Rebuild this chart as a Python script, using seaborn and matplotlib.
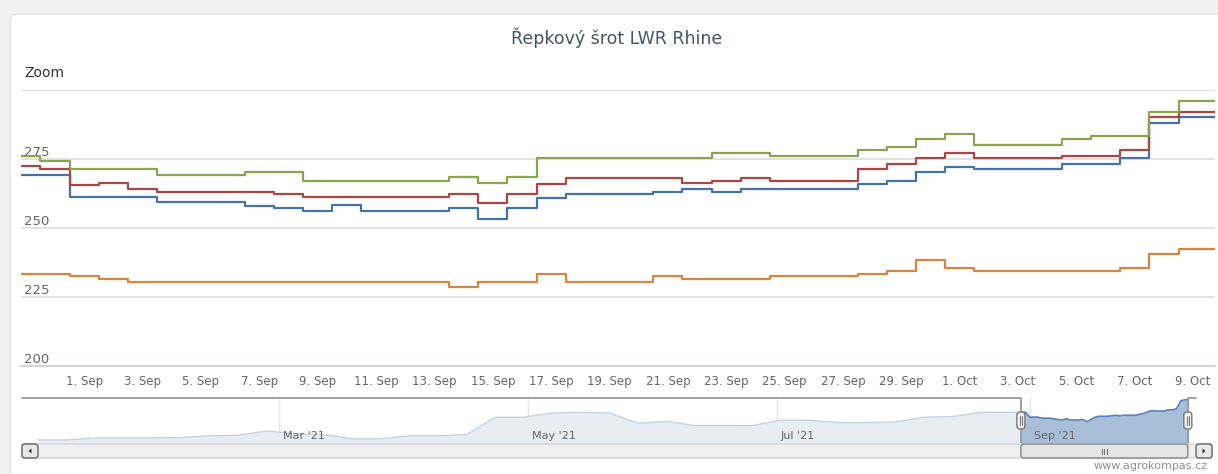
import numpy as np
import pandas as pd
import seaborn as sns
import matplotlib.pyplot as plt
import matplotlib.dates as mdates
from matplotlib.patches import FancyBboxPatch, Rectangle, Polygon
from matplotlib.lines import Line2D
from matplotlib.transforms import IdentityTransform, blended_transform_factory

# daily prices 29 Aug - 10 Oct 2021 (first and last day only partly in view)
dates = pd.date_range('2021-08-29', '2021-10-10', freq='D')

blue = [269.2, 269.2, 269.2, 261.1, 261.1, 261.1, 259.3, 259.3, 259.3, 258.1,
        257.1, 256.2, 258.4, 256.2, 256.2, 256.2, 257.2, 253.4, 257.2, 261.0,
        262.4, 262.4, 262.4, 263.2, 264.2, 263.2, 264.2, 264.2, 264.2, 264.2,
        266.1, 267.2, 270.2, 272.1, 271.2, 271.2, 271.2, 273.2, 273.2, 275.2,
        288.0, 290.1, 290.1]
red = [272.4, 272.4, 271.2, 265.4, 266.4, 264.2, 263.2, 263.2, 263.2, 263.2,
       262.4, 261.1, 261.1, 261.1, 261.1, 261.1, 262.4, 259.2, 262.4, 266.1,
       268.2, 268.2, 268.2, 268.2, 266.2, 267.2, 268.2, 267.2, 267.2, 267.2,
       271.2, 273.3, 275.2, 277.2, 275.2, 275.2, 275.2, 276.2, 276.2, 278.2,
       290.2, 292.2, 292.2]
green = [276.2, 276.2, 274.3, 271.2, 271.2, 271.2, 269.2, 269.2, 269.2, 270.3,
         270.3, 267.2, 267.2, 267.2, 267.2, 267.2, 268.4, 266.2, 268.4, 275.3,
         275.3, 275.3, 275.3, 275.3, 275.3, 277.2, 277.2, 276.2, 276.2, 276.2,
         278.2, 279.2, 282.2, 284.1, 280.2, 280.2, 280.2, 282.2, 283.2, 283.2,
         292.2, 296.0, 296.0]
orange = [233.5, 233.5, 233.5, 232.5, 231.5, 230.5, 230.5, 230.5, 230.5, 230.5,
          230.5, 230.5, 230.5, 230.5, 230.5, 230.5, 228.7, 230.5, 230.5, 233.5,
          230.5, 230.5, 230.5, 232.5, 231.5, 231.5, 231.5, 232.5, 232.5, 232.5,
          233.5, 234.5, 238.5, 235.5, 234.5, 234.5, 234.5, 234.5, 234.5, 235.5,
          240.4, 242.5, 242.5]
series_names = ['s1', 's2', 's3', 's4']
colors = ['#4572A7', '#AA4643', '#89A54E', '#DB843D']

# navigator: weekly history of the first series before the zoomed window
nav_dates = pd.date_range('2021-01-01', periods=34, freq='7D')
nav_values = [223, 223, 226.5, 226.5, 226.5, 227, 230, 231, 238, 233,
              232, 225, 225, 230, 230, 232, 261, 261, 268, 269,
              268, 251, 254, 247, 247, 247, 256, 256, 252, 252,
              253, 261, 262, 269]

tick_dates = pd.date_range('2021-08-30', '2021-10-09', freq='2D')
tick_labels = ['', '1. Sep', '3. Sep', '5. Sep', '7. Sep', '9. Sep', '11. Sep',
               '13. Sep', '15. Sep', '17. Sep', '19. Sep', '21. Sep', '23. Sep',
               '25. Sep', '27. Sep', '29. Sep', '1. Oct', '3. Oct', '5. Oct',
               '7. Oct', '9. Oct']
ytick_values = [200, 225, 250, 275, 300]
ytick_labels = ['200', '225', '250', '275', '']
nav_month_dates = pd.to_datetime(['2021-03-01', '2021-05-01', '2021-07-01', '2021-09-01'])
nav_month_labels = ["Mar '21", "May '21", "Jul '21", "Sep '21"]
title = 'Řepkový šrot LWR Rhine'

view_start = pd.Timestamp('2021-08-29 20:00')
view_end = pd.Timestamp('2021-10-09 18:00')
nav_start = pd.Timestamp('2020-12-28')
nav_end = pd.Timestamp('2021-10-11 18:00')

sns.set_style('white')
plt.rcParams['font.family'] = ['DejaVu Sans']

W, H = 1218, 474
fig = plt.figure(figsize=(W / 100, H / 100), dpi=100, facecolor='#f1f1f1')
ident = IdentityTransform()


def frac(x0, y0, x1, y1):
    return [x0 / W, 1 - y1 / H, (x1 - x0) / W, (y1 - y0) / H]


def rbox(x0, y0, x1, y1, r, fc, ec, lw=1.0, z=5):
    p = FancyBboxPatch((x0, H - y1), x1 - x0, y1 - y0,
                       boxstyle=f'round,pad=0,rounding_size={r}',
                       fc=fc, ec=ec, lw=lw, transform=ident, zorder=z)
    fig.add_artist(p)


# white card
rbox(10, 14, W + 30, H + 30, 8, 'white', '#e2e2e2', z=-5)

fig.text(617, H - 38, title, ha='center', va='center', fontsize=12.5,
         color='#3E576F', transform=ident)
fig.text(24, H - 73, 'Zoom', ha='left', va='center', fontsize=10,
         color='#333333', transform=ident)

# main chart
ax = fig.add_axes(frac(21, 90, 1215, 366))
ax.set_facecolor('none')
df = pd.DataFrame({
    'date': np.tile(dates.values, 4),
    'price': blue + red + green + orange,
    'series': np.repeat(series_names, len(dates)),
})
sns.lineplot(data=df, x='date', y='price', hue='series', palette=colors,
             estimator=None, drawstyle='steps-mid', linewidth=1.6,
             legend=False, ax=ax)
ax.set_xlim(view_start.to_pydatetime(), view_end.to_pydatetime())
ax.set_ylim(200, 300)
ax.set_xticks(tick_dates.to_pydatetime(), labels=tick_labels)
ax.set_yticks(ytick_values, labels=ytick_labels)
ax.set_xlabel('')
ax.set_ylabel('')
ax.yaxis.grid(True, color='#dddddd', lw=1.2)
ax.xaxis.grid(False)
ax.set_axisbelow(True)
for s in ['top', 'left', 'right']:
    ax.spines[s].set_visible(False)
ax.spines['bottom'].set_color('#C0D0E0')
ax.spines['bottom'].set_linewidth(1.2)
ax.tick_params(axis='x', direction='out', length=3.6, width=1, color='#C0D0E0',
               pad=3, labelsize=8.5, labelcolor='#666666')
ax.tick_params(axis='y', length=0, pad=-2, labelsize=9.5, labelcolor='#666666')
plt.setp(ax.get_yticklabels(), ha='left', va='bottom')

# navigator
nav = fig.add_axes(frac(22, 398, 1196, 443))
nav.set_facecolor('none')
nav_x = list(nav_dates.to_pydatetime()) + list(dates.to_pydatetime())
nav_y = nav_values + blue
nav_lo, nav_hi = 218, 293
nav.set_xlim(nav_start.to_pydatetime(), nav_end.to_pydatetime())
nav.set_ylim(nav_lo, nav_hi)
nav.set_axis_off()
for d in nav_month_dates:
    nav.axvline(d.to_pydatetime(), color='#e6e6e6', lw=1, zorder=0)
nav.fill_between(nav_x, nav_y, nav_lo, color='#e8edf4', lw=0, zorder=1)
sns.lineplot(x=nav_x, y=nav_y, color='#c4d1e3', linewidth=1, ax=nav, zorder=2)

s0 = mdates.date2num(view_start.to_pydatetime())
s1 = mdates.date2num(view_end.to_pydatetime())
clip = Rectangle((s0, nav_lo), s1 - s0, nav_hi - nav_lo, transform=nav.transData)
dark = nav.fill_between(nav_x, nav_y, nav_lo, color='#a9bed9', lw=0, zorder=3)
dark.set_clip_path(clip)
dl, = nav.plot(nav_x, nav_y, color='#5f83b8', lw=1.2, zorder=4)
dl.set_clip_path(clip)

for d, lab in zip(nav_month_dates, nav_month_labels):
    nav.annotate(lab, xy=(d.to_pydatetime(), 0.16), xycoords=('data', 'axes fraction'),
                 xytext=(3, 0), textcoords='offset points', va='center',
                 fontsize=8, color='#666666', zorder=6)

tr = blended_transform_factory(nav.transData, nav.transAxes)
n0 = mdates.date2num(nav_start.to_pydatetime())
n1 = mdates.date2num(nav_end.to_pydatetime())
oc = '#9a9a9e'
nav.plot([n0, s0, s0], [1, 1, 0], transform=tr, color=oc, lw=1.3, clip_on=False, zorder=7)
nav.plot([s1, s1, n1], [0, 1, 1], transform=tr, color=oc, lw=1.3, clip_on=False, zorder=7)

px0 = nav.transData.transform((s0, nav_lo))[0]
px1 = nav.transData.transform((s1, nav_lo))[0]

# scrollbar
rbox(22, 444, 1212, 458, 0.5, '#f0f0f0', '#d2d2d2', z=4)
rbox(px0, 444, px1, 458, 3, '#e4e4e4', '#858585', z=5)
for dx in (-2.5, 0, 2.5):
    xc = (px0 + px1) / 2 + dx
    fig.add_artist(Line2D([xc, xc], [H - 448.5, H - 453.5], color='#777777',
                          lw=0.8, transform=ident, zorder=6))
rbox(22, 444, 38, 458, 3, '#e8e8e8', '#666666', z=6)
rbox(1196, 444, 1212, 458, 3, '#e8e8e8', '#666666', z=6)
fig.add_artist(Polygon([[28.5, H - 451], [31.5, H - 448.5], [31.5, H - 453.5]],
                       closed=True, fc='#333333', ec='none', transform=ident, zorder=7))
fig.add_artist(Polygon([[1205.5, H - 451], [1202.5, H - 448.5], [1202.5, H - 453.5]],
                       closed=True, fc='#333333', ec='none', transform=ident, zorder=7))

# navigator handles
for px in (px0, px1):
    rbox(px - 4, 412, px + 4, 429, 3, '#f4f4f4', '#777777', z=8)
    for dx in (-1.3, 1.3):
        fig.add_artist(Line2D([px + dx, px + dx], [H - 416, H - 425], color='#777777',
                              lw=0.8, transform=ident, zorder=9))

fig.text(1208, H - 466, 'www.agrokompas.cz', ha='right', va='center', fontsize=8,
         color='#909090', transform=ident)

fig.savefig('out.png', dpi=100, facecolor=fig.get_facecolor())
